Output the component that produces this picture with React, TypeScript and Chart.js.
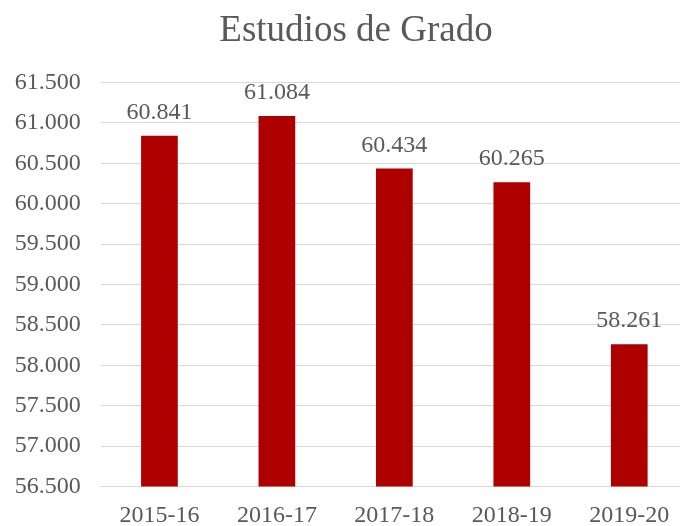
import React, { useEffect, useRef } from "react";
import { Chart, registerables } from "chart.js";

Chart.register(...registerables);

const categories = ["2015-16", "2016-17", "2017-18", "2018-19", "2019-20"];
const values = [60841, 61084, 60434, 60265, 58261];
const yMin = 56500;
const yMax = 61500;
const yStep = 500;
const title = "Estudios de Grado";

const TEXT = "#595959";
const FONT = "'Liberation Serif', 'Times New Roman', serif";

const fmt = (v: number) => {
  const s = Math.round(v).toString();
  return s.length > 3 ? s.slice(0, -3) + "." + s.slice(-3) : s;
};

const labelPlugin = {
  id: "barLabels",
  afterDatasetsDraw(chart: any) {
    const ctx = chart.ctx;
    const meta = chart.getDatasetMeta(0);
    ctx.save();
    ctx.font = `24px ${FONT}`;
    ctx.fillStyle = TEXT;
    ctx.textAlign = "center";
    ctx.textBaseline = "alphabetic";
    meta.data.forEach((bar: any, i: number) => {
      ctx.fillText(fmt(values[i]), bar.x, bar.y - 17);
    });
    ctx.restore();
  },
};

export default function App() {
  const ref = useRef<HTMLCanvasElement>(null);
  useEffect(() => {
    if (!ref.current) return;
    const chart = new Chart(ref.current, {
      type: "bar",
      data: {
        labels: categories,
        datasets: [
          {
            data: values,
            backgroundColor: "#AE0000",
            barPercentage: 0.3125,
            categoryPercentage: 1,
          },
        ],
      },
      options: {
        responsive: false,
        animation: false,
        layout: { padding: 0 },
        plugins: {
          legend: { display: false },
          tooltip: { enabled: false },
          title: {
            display: true,
            text: title,
            color: TEXT,
            font: { family: FONT, size: 37, weight: "normal" },
            padding: { top: 9, bottom: 29 },
          },
        },
        scales: {
          x: {
            grid: { display: false },
            border: { display: true, color: "#D9D9D9" },
            ticks: {
              color: TEXT,
              font: { family: FONT, size: 24 },
              padding: 7,
              maxRotation: 0,
            },
            afterFit: (s: any) => {
              s.height = 39.5;
            },
          },
          y: {
            min: yMin,
            max: yMax,
            grid: { color: "#D9D9D9", lineWidth: 1, drawTicks: false },
            border: { display: false },
            ticks: {
              stepSize: yStep,
              color: TEXT,
              font: { family: FONT, size: 24 },
              padding: 20,
              callback: (v: any) => fmt(Number(v)),
            },
            afterFit: (s: any) => {
              s.width = 100.7;
            },
          },
          y2: {
            position: "right",
            display: true,
            grid: { display: false, drawTicks: false },
            border: { display: false },
            ticks: { display: false },
            afterFit: (s: any) => {
              s.width = 24;
            },
          },
        },
      },
      plugins: [labelPlugin],
    });
    return () => chart.destroy();
  }, []);
  return (
    <div
      style={{
        position: "absolute",
        top: 0,
        left: 0,
        width: 680,
        height: 526,
        overflow: "hidden",
        background: "#fff",
      }}
    >
      <canvas ref={ref} width={712} height={526} style={{ display: "block" }} />
    </div>
  );
}
